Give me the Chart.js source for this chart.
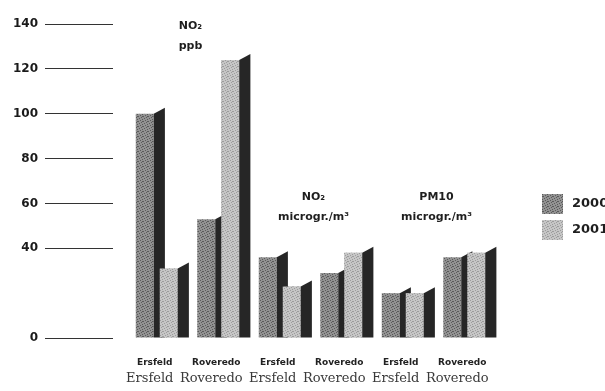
<!DOCTYPE html>
<html>
<head>
<meta charset="utf-8">
<script src="https://cdn.jsdelivr.net/npm/chart.js@4.4.0/dist/chart.umd.min.js"></script>
<style>
  body { margin: 0; background: #fff; }
  canvas { display: block; }
</style>
</head>
<body>
<canvas id="myChart" width="605" height="391"></canvas>
<script>
// data

const stations = ['Ersfeld', 'Roveredo', 'Ersfeld', 'Roveredo', 'Ersfeld', 'Roveredo'];
const groupTitles = [['NO₂', 'ppb'], ['NO₂', 'microgr./m³'], ['PM10', 'microgr./m³']];
const years = ['2000', '2001'];
const values2000 = [100, 53, 36, 29, 20, 36];
const values2001 = [31, 124, 23, 38, 20, 38];
const yTicks = [0, 40, 60, 80, 100, 120, 140];

// fills

const ctx = document.getElementById('myChart').getContext('2d');

function grain(base, dots) { // small speckle like the scanned print
    const c = document.createElement('canvas');
    c.width = 5; c.height = 5;
    const g = c.getContext('2d');
    g.fillStyle = base;
    g.fillRect(0, 0, 5, 5);
    g.fillStyle = dots;
    [[0, 0], [3, 1], [1, 2], [4, 3], [2, 4], [2, 1]].forEach(p => g.fillRect(p[0], p[1], 1, 1));
    return ctx.createPattern(c, 'repeat');
}
const fill2000 = grain('#929292', '#5a5a5a');
const fill2001 = grain('#c6c6c6', '#9c9c9c');
const sideColor = '#262626';

// plugins

const sideFaces = {
    id: 'sideFaces',
    afterDatasetsDraw(chart) {
        const c = chart.ctx;
        c.save();
        chart.data.datasets.forEach((ds, i) => {
            const meta = chart.getDatasetMeta(i);
            if (i > 0) meta.data.forEach(bar => bar.draw(c)); // later year sits in front
            meta.data.forEach(bar => {
                const r = bar.x + bar.width / 2;
                const d = bar.width * 0.62;
                c.fillStyle = sideColor;
                c.beginPath();
                c.moveTo(r, bar.y);
                c.lineTo(r + d, bar.y - 6);
                c.lineTo(r + d, bar.base);
                c.lineTo(r, bar.base);
                c.closePath();
                c.fill();
            });
        });
        c.restore();
    }
};

const labelsAndKey = {
    id: 'labelsAndKey',
    afterDraw(chart) {
        const x = chart.scales.x, y = chart.scales.y, area = chart.chartArea;
        const c = chart.ctx;
        c.save();
        c.font = 'bold 11px "DejaVu Sans"';
        c.fillStyle = '#1e1e1e';
        c.textAlign = 'center';
        c.textBaseline = 'middle';
        groupTitles.forEach((lines, g) => {
            const cx = (x.getPixelForValue(2 * g) + x.getPixelForValue(2 * g + 1)) / 2 + 3;
            const top = y.getPixelForValue(g === 0 ? 139 : 63);
            lines.forEach((t, k) => c.fillText(t, cx, top + k * 20));
        });
        // key
        const fills = [fill2000, fill2001];
        c.font = 'bold 13px "DejaVu Sans"';
        c.textAlign = 'left';
        years.forEach((yr, k) => {
            const bx = area.right + 47, by = 194 + k * 26;
            c.fillStyle = fills[k];
            c.fillRect(bx, by, 21, 20);
            c.fillStyle = '#1e1e1e';
            c.fillText(yr, bx + 30, by + 10);
        });
        c.restore();
    }
};

// chart

let chart = new Chart(ctx, {
    type: 'bar',
    data: {
        labels: stations,
        datasets: [
            { label: years[0], data: values2000, backgroundColor: fill2000 },
            { label: years[1], data: values2001, backgroundColor: fill2001 }
        ]
    },
    options: {
        responsive: false,
        animation: false,
        devicePixelRatio: 1,
        barPercentage: 0.75,
        categoryPercentage: 0.78,
        layout: { padding: { top: 24, right: 110, bottom: 0, left: 0 } },
        plugins: { legend: { display: false }, tooltip: { enabled: false } },
        scales: {
            x: {
                position: 'bottom',
                grid: { display: false, drawTicks: false },
                border: { display: false },
                ticks: {
                    padding: 19, labelOffset: -2, maxRotation: 0, minRotation: 0, autoSkip: false,
                    font: { family: 'DejaVu Sans', size: 9, weight: 'bold' }, color: '#222'
                },
                afterFit: s => { s.height = 31; }
            },
            x2: {
                type: 'category',
                position: 'bottom',
                labels: stations,
                offset: true,
                grid: { display: false, drawTicks: false },
                border: { display: false },
                ticks: {
                    padding: 2, labelOffset: -7, maxRotation: 0, minRotation: 0, autoSkip: false,
                    font: { family: 'DejaVu Serif', size: 13 }, color: '#3a3a3a'
                },
                afterFit: s => { s.height = 22; }
            },
            y: {
                min: 0,
                max: 140,
                afterBuildTicks: s => { s.ticks = yTicks.map(v => ({ value: v })); },
                grid: { drawOnChartArea: false, tickLength: 81, tickBorderDash: [68, 40], tickColor: '#333', tickWidth: 1 },
                border: { display: false },
                ticks: { padding: 7, font: { family: 'DejaVu Sans', size: 12, weight: 'bold' }, color: '#1a1a1a' },
                afterFit: s => { s.width = 126; }
            }
        }
    },
    plugins: [sideFaces, labelsAndKey]
});
</script>
</body>
</html>
